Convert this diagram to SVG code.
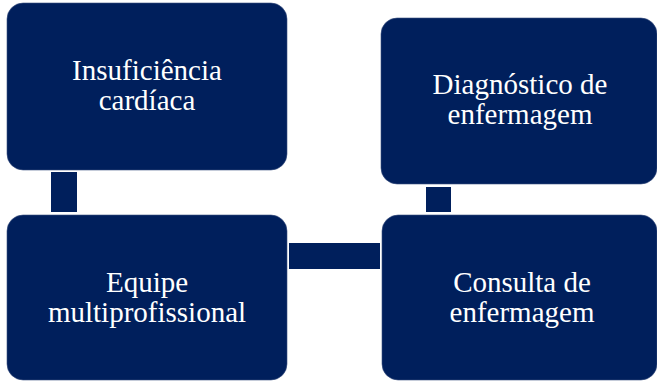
<svg xmlns="http://www.w3.org/2000/svg" width="657" height="381" viewBox="0 0 657 381">
<style>
.box{fill:#001f5c;stroke:#3a5080;stroke-width:0.6}
.conn{fill:#001f5c}
.t{font-family:"Liberation Serif","Times New Roman",serif;font-size:29px;fill:#ffffff;text-anchor:middle}
</style>
<rect width="657" height="381" fill="#ffffff"/>
<g id="connectors">
<rect class="conn" x="51" y="172" width="26" height="40"/>
<rect class="conn" x="289" y="243" width="91" height="26"/>
<rect class="conn" x="426" y="187" width="25" height="25"/>
</g>
<g id="node-insuficiencia">
<rect class="box" x="7" y="3" width="280" height="167" rx="16"/>
<text class="t" x="147" y="80">Insuficiência</text>
<text class="t" x="147" y="110">cardíaca</text>
</g>
<g id="node-diagnostico">
<rect class="box" x="381" y="18" width="276" height="166" rx="16"/>
<text class="t" x="520" y="94">Diagnóstico de</text>
<text class="t" x="520" y="124">enfermagem</text>
</g>
<g id="node-equipe">
<rect class="box" x="7" y="215" width="280" height="165" rx="16"/>
<text class="t" x="147" y="292">Equipe</text>
<text class="t" x="147" y="322">multiprofissional</text>
</g>
<g id="node-consulta">
<rect class="box" x="382" y="215" width="275" height="165" rx="16"/>
<text class="t" x="522" y="292">Consulta de</text>
<text class="t" x="522" y="322">enfermagem</text>
</g>
</svg>
